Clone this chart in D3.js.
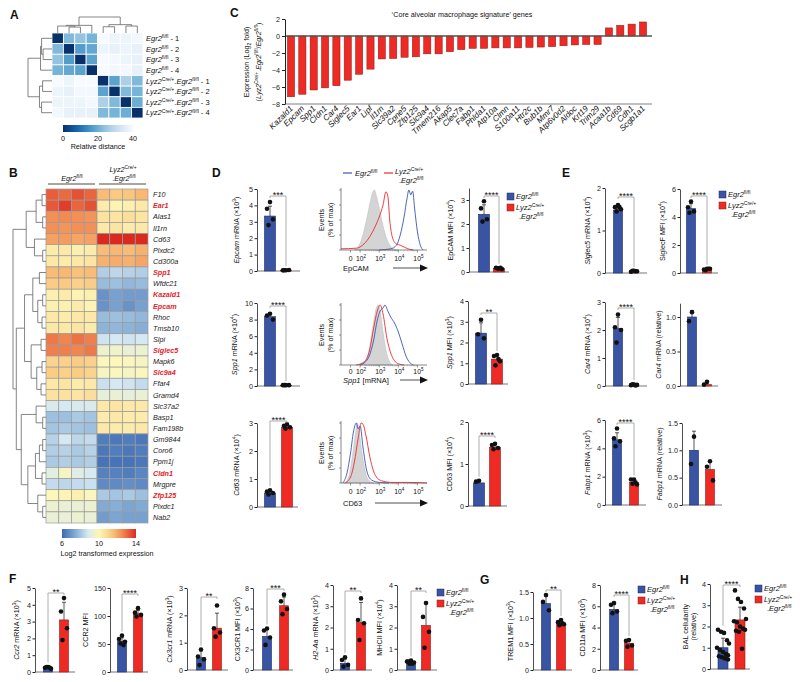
<!DOCTYPE html>
<html>
<head>
<meta charset="utf-8">
<script src="https://cdn.jsdelivr.net/npm/d3@7.9.0/dist/d3.min.js"></script>
<style>
  body { margin: 0; background: #fff; }
  svg { font-family: "Liberation Sans", Arial, sans-serif; }
</style>
</head>
<body>
<svg id="fig" width="800" height="682"></svg>
<script>
// ---------- data: panel A (sample distance) ----------
const distSamples = [
  '<i>Egr2</i><sup>fl/fl</sup> - 1', '<i>Egr2</i><sup>fl/fl</sup> - 2',
  '<i>Egr2</i><sup>fl/fl</sup> - 3', '<i>Egr2</i><sup>fl/fl</sup> - 4',
  '<i>Lyz2</i><sup>Cre/+</sup>.<i>Egr2</i><sup>fl/fl</sup> - 1', '<i>Lyz2</i><sup>Cre/+</sup>.<i>Egr2</i><sup>fl/fl</sup> - 2',
  '<i>Lyz2</i><sup>Cre/+</sup>.<i>Egr2</i><sup>fl/fl</sup> - 3', '<i>Lyz2</i><sup>Cre/+</sup>.<i>Egr2</i><sup>fl/fl</sup> - 4'
];
const distMatrix = [
  [0, 22, 24, 21, 40, 38, 38, 39],
  [22, 0, 17, 19, 38, 37, 38, 37],
  [24, 17, 0, 18, 40, 39, 38, 37],
  [21, 19, 18, 0, 40, 39, 39, 37],
  [40, 38, 40, 40, 0, 18, 27, 22],
  [38, 37, 39, 39, 18, 0, 22, 21],
  [38, 38, 38, 39, 27, 22, 0, 20],
  [39, 37, 37, 37, 22, 21, 20, 0]
];
const distTree = [46, [22, [20, 0, [17, 1, 2]], 3], [24, [18, 4, 5], [20, 6, 7]]];

// ---------- data: panel B (expression heatmap) ----------
const heatGenes = ['F10', 'Ear1', 'Alas1', 'Il1rn', 'Cd63', 'Plxdc2', 'Cd300a', 'Spp1', 'Wfdc21', 'Kazald1',
  'Epcam', 'Rhoc', 'Tmsb10', 'Slpi', 'Siglec5', 'Mapk6', 'Slc9a4', 'Ffar4', 'Gramd4', 'Slc37a2',
  'Basp1', 'Fam198b', 'Gm9844', 'Coro6', 'Ppm1j', 'Cldn1', 'Mrgpre', 'Zfp125', 'Plxdc1', 'Nab2'];
const heatRed = ['Ear1', 'Spp1', 'Kazald1', 'Epcam', 'Siglec5', 'Slc9a4', 'Cldn1', 'Zfp125'];
const heatValues = [
  [13.2, 13.0, 13.4, 13.1, 11.6, 11.3, 11.4, 11.7],
  [13.3, 13.7, 13.1, 13.4, 10.3, 10.1, 10.2, 10.4],
  [12.4, 12.5, 12.4, 12.3, 10.6, 10.5, 10.7, 10.5],
  [12.4, 12.3, 12.4, 12.4, 10.4, 10.5, 10.3, 10.4],
  [12.1, 12.2, 12.0, 12.1, 14.0, 14.2, 14.0, 14.1],
  [10.3, 10.4, 10.2, 10.3, 11.6, 11.7, 11.6, 11.8],
  [10.4, 10.3, 10.4, 10.5, 11.8, 11.9, 11.8, 12.0],
  [11.6, 11.7, 11.5, 11.6, 8.2, 8.4, 8.3, 8.2],
  [11.2, 11.3, 11.1, 11.2, 7.8, 7.9, 7.7, 7.8],
  [10.2, 10.3, 10.1, 10.2, 6.9, 7.2, 7.1, 7.1],
  [10.2, 10.2, 10.3, 10.1, 6.9, 7.2, 6.9, 7.2],
  [10.4, 10.3, 10.4, 10.4, 7.8, 7.9, 7.8, 7.7],
  [10.4, 10.4, 10.5, 10.3, 7.6, 7.7, 7.6, 7.5],
  [12.8, 12.6, 12.9, 12.7, 8.7, 8.8, 8.7, 8.8],
  [12.7, 12.7, 12.6, 12.8, 9.5, 9.6, 9.4, 9.5],
  [11.0, 11.1, 11.2, 11.1, 9.9, 10.0, 9.9, 9.8],
  [11.2, 11.1, 11.2, 11.0, 9.8, 9.9, 9.8, 9.9],
  [10.4, 10.5, 10.3, 10.4, 8.6, 8.8, 8.7, 8.5],
  [10.6, 10.6, 10.5, 10.7, 9.3, 9.4, 9.3, 9.4],
  [8.9, 8.8, 8.9, 8.9, 10.4, 10.5, 10.4, 10.4],
  [7.9, 7.9, 8.1, 8.0, 10.3, 10.4, 10.3, 10.3],
  [8.0, 8.1, 8.0, 7.9, 10.4, 10.3, 10.3, 10.4],
  [8.3, 8.8, 8.4, 8.5, 6.4, 6.3, 6.4, 6.3],
  [8.2, 8.3, 8.1, 8.3, 6.3, 6.4, 6.3, 6.4],
  [8.1, 8.2, 8.1, 8.2, 6.2, 6.2, 6.2, 6.3],
  [9.2, 9.8, 9.1, 8.9, 6.5, 6.5, 6.4, 6.6],
  [8.5, 8.4, 8.5, 8.6, 6.7, 6.7, 6.8, 6.7],
  [10.0, 10.1, 10.2, 9.9, 8.1, 8.0, 8.1, 7.9],
  [9.5, 9.4, 9.4, 9.5, 7.4, 7.5, 7.3, 7.4],
  [9.4, 9.4, 9.5, 9.4, 7.1, 7.3, 7.2, 7.2]
];
const heatTree = [10,
  [6, [3, [1.2, 'F10', 'Ear1'], [1, 'Alas1', 'Il1rn']], [3.5, 'Cd63', [1, 'Plxdc2', 'Cd300a']]],
  [9,
    [6.5, [4, [2, 'Spp1', 'Wfdc21'], [2.5, [1, 'Kazald1', 'Epcam'], [1.2, 'Rhoc', 'Tmsb10']]],
          [4.5, [1.5, 'Slpi', 'Siglec5'], [2.8, [1.2, 'Mapk6', 'Slc9a4'], [1.5, 'Ffar4', 'Gramd4']]]],
    [7.5, [3, 'Slc37a2', [1, 'Basp1', 'Fam198b']],
          [5.5, [3.2, [2, [1, 'Gm9844', 'Coro6'], 'Ppm1j'], [1.2, 'Cldn1', 'Mrgpre']],
                [2.5, 'Zfp125', [1, 'Plxdc1', 'Nab2']]]]]];

// ---------- data: panel C (log2 fold) ----------
const coreGenes = ['Kazald1', 'Epcam', 'Spp1', 'Cldn1', 'Car4', 'Siglec5', 'Ear1', 'Lipf', 'Il1rn', 'Slc39a2',
  'Cpne5', 'Zfp125', 'Slc9a4', 'Tmem216', 'Akap5', 'Clec7a', 'Fabp1', 'Phlda1', 'Atp10a', 'Clmn',
  'S100a11', 'Htr2c', 'Bub1b', 'Mmr7', 'Atp6v0d2', 'Aldoc', 'Krt19', 'Trim29', 'Acaa1b', 'Cd69', 'Cdh1', 'Scgb1a1'];
const coreFold = [-7.15, -6.85, -6.35, -6.1, -5.85, -5.2, -4.5, -3.9, -2.7, -2.65,
  -2.5, -2.45, -2.1, -2.1, -1.85, -1.6, -1.45, -1.45, -1.4, -1.4,
  -1.4, -1.35, -1.3, -1.25, -1.15, -1.05, -1.0, -1.0, 0.95, 1.25, 1.4, 1.65];

// ---------- data: flow histograms [log10 position, % of max] ----------
const epcamIso = [[1.7, 0], [1.9, 5], [2.1, 20], [2.3, 45], [2.5, 75], [2.65, 95], [2.75, 100], [2.85, 90], [3.0, 70], [3.2, 40], [3.4, 18], [3.6, 6], [3.8, 1], [4.0, 0]];
const epcamWt = [[3.0, 0], [3.6, 2], [3.9, 8], [4.1, 25], [4.3, 55], [4.45, 85], [4.55, 100], [4.65, 92], [4.75, 98], [4.85, 70], [5.0, 30], [5.15, 8], [5.3, 0]];
const epcamKo = [[1.0, 2], [1.8, 3], [2.2, 10], [2.5, 22], [2.8, 40], [3.0, 55], [3.2, 75], [3.35, 97], [3.45, 90], [3.55, 50], [3.7, 20], [3.9, 10], [4.1, 8], [4.3, 5], [4.5, 2], [4.8, 0]];
const spp1Iso = [[2.0, 0], [2.3, 8], [2.5, 30], [2.7, 70], [2.85, 95], [2.95, 100], [3.05, 90], [3.2, 55], [3.35, 25], [3.5, 8], [3.7, 0]];
const spp1Wt = [[2.0, 0], [2.4, 10], [2.7, 40], [2.9, 75], [3.05, 90], [3.2, 95], [3.3, 100], [3.45, 90], [3.6, 80], [3.8, 70], [4.0, 55], [4.2, 35], [4.4, 15], [4.6, 4], [4.8, 0]];
const spp1Ko = [[1.8, 0], [2.2, 5], [2.5, 25], [2.7, 60], [2.9, 90], [3.05, 100], [3.2, 85], [3.4, 45], [3.6, 20], [3.8, 7], [4.0, 2], [4.3, 0]];
const cd63Iso = [[1.2, 0], [1.4, 10], [1.6, 45], [1.75, 80], [1.85, 100], [1.95, 85], [2.1, 50], [2.3, 15], [2.5, 3], [2.7, 0]];
const cd63Wt = [[1.1, 0], [1.3, 15], [1.5, 50], [1.65, 85], [1.8, 100], [1.9, 90], [2.0, 95], [2.15, 60], [2.35, 20], [2.6, 5], [3.0, 1], [3.5, 0]];
const cd63Ko = [[1.2, 0], [1.5, 10], [1.7, 35], [1.9, 75], [2.05, 100], [2.15, 98], [2.3, 80], [2.5, 45], [2.7, 20], [2.9, 8], [3.2, 3], [3.6, 1], [4.5, 1], [5.5, 0]];

// ---------- data: bar charts (group 0 = Egr2 fl/fl, group 1 = Lyz2Cre/+.Egr2 fl/fl) ----------
const epcamMrna = { mean: [3.35, 0.05], sd: [0.6, 0.01], pts: [[4.2, 3.8, 3.15, 2.8], [0.05, 0.04, 0.06, 0.05]] };
const epcamMfi = { mean: [2.4, 0.15], sd: [0.4, 0.03], pts: [[2.95, 2.65, 2.2, 2.1], [0.15, 0.18, 0.12, 0.15, 0.17]] };
const spp1Mrna = { mean: [8.35, 0.1], sd: [0.3, 0.02], pts: [[8.7, 8.5, 8.0], [0.1, 0.1, 0.1, 0.1]] };
const spp1Mfi = { mean: [2.45, 1.2], sd: [0.5, 0.2], pts: [[3.1, 2.4, 2.2], [1.4, 1.35, 1.1, 0.9, 1.2]] };
const cd63Mrna = { mean: [0.5, 2.85], sd: [0.06, 0.06], pts: [[0.6, 0.55, 0.5, 0.45], [2.95, 2.9, 2.85, 2.8]] };
const cd63Mfi = { mean: [0.55, 1.4], sd: [0.03, 0.06], pts: [[0.6, 0.58], [1.48, 1.45, 1.38, 1.35]] };
const siglec5Mrna = { mean: [1.48, 0.03], sd: [0.05, 0.01], pts: [[1.6, 1.55, 1.5, 1.45, 1.55], [0.05, 0.03, 0.04, 0.05, 0.04]] };
const siglecfMfi = { mean: [4.6, 0.25], sd: [0.35, 0.04], pts: [[5.1, 4.7, 4.4, 4.3], [0.3, 0.25, 0.3, 0.2, 0.3]] };
const car4Mrna = { mean: [2.05, 0.03], sd: [0.4, 0.01], pts: [[2.55, 2.1, 2.0, 1.55], [0.05, 0.03, 0.04, 0.06, 0.02]] };
const car4Rel = { mean: [1.0, 0.02], sd: [0.09, 0.02], pts: [[1.07, 0.94], [0.06, 0.02]] };
const fabp1Mrna = { mean: [4.6, 1.6], sd: [0.5, 0.17], pts: [[5.4, 4.7, 4.5, 4.15], [1.8, 1.8, 1.45, 1.5, 1.6]] };
const fabp1Rel = { mean: [1.0, 0.65], sd: [0.35, 0.15], pts: [[1.25, 0.75], [0.8, 0.7, 0.45]] };
const ccr2Mrna = { mean: [0.28, 3.1], sd: [0.05, 1.05], pts: [[0.3, 0.25, 0.2, 0.3, 0.27], [4.4, 3.6, 2.6, 1.9]] };
const ccr2Mfi = { mean: [55, 104], sd: [6, 6], pts: [[65, 59, 54, 51, 48], [114, 106, 102, 99]] };
const cx3cr1Mrna = { mean: [0.45, 1.53], sd: [0.25, 0.55], pts: [[0.75, 0.49, 0.39, 0.18], [2.36, 1.53, 1.37, 1.22]] };
const cx3cr1Mfi = { mean: [3.27, 6.27], sd: [0.7, 0.85], pts: [[4.05, 3.86, 3.17, 2.45], [7.35, 6.7, 5.95, 5.45]] };
const h2aaMrna = { mean: [0.31, 2.23], sd: [0.2, 0.95], pts: [[0.6, 0.47, 0.24, 0.16], [3.37, 2.35, 2.2, 1.41]] };
const mhciiMfi = { mean: [0.35, 2.1], sd: [0.06, 1.1], pts: [[0.45, 0.4, 0.35, 0.3, 0.3, 0.4], [3.15, 2.5, 1.8, 1.05]] };
const trem1Mfi = { mean: [1.28, 0.9], sd: [0.14, 0.04], pts: [[1.44, 1.31, 1.15], [0.96, 0.92, 0.88, 0.86, 0.9]] };
const cd11aMfi = { mean: [5.7, 2.52], sd: [0.45, 0.3], pts: [[6.3, 6.13, 5.5, 5.35], [2.83, 2.74, 2.3, 2.2]] };
const balCells = { mean: [1.0, 2.31], sd: [0.45, 0.6],
  pts: [[1.85, 1.75, 1.7, 1.35, 1.2, 1.0, 0.9, 0.8, 0.7, 0.65, 0.6, 0.55, 0.5, 0.45],
        [3.7, 3.3, 3.15, 2.85, 2.35, 2.25, 2.2, 2.0, 1.9, 1.85, 1.8, 1.75, 0.95]] };

// ---------- drawing ----------
const svg = d3.select('#fig');
const FS = 7.2;
const BLUE = '#3a54a4', RED = '#ee2a24';
const JIT = [0, -3, 3, -1.5, 1.5, -4, 4];
const JIT_WIDE = [-5, -2, 1, 4, 6, -6, -3, 0, 3, 5, -4, -1, 2, 5];

// small markup: <i>, <sup>, <sub>
function rich(sel, str, fs) {
  const parts = str.split(/(<\/?(?:i|sup|sub)>)/).filter((s) => s);
  let it = false, mode = 0, shift = 0;
  parts.forEach((p) => {
    if (p === '<i>') it = true;
    else if (p === '</i>') it = false;
    else if (p === '<sup>') mode = 1;
    else if (p === '<sub>') mode = 2;
    else if (p === '</sup>' || p === '</sub>') mode = 0;
    else {
      const target = mode === 1 ? -0.38 * fs : mode === 2 ? 0.25 * fs : 0;
      const ts = sel.append('tspan').text(p);
      if (it) ts.attr('font-style', 'italic');
      if (mode) ts.attr('font-size', fs * 0.68);
      if (target !== shift) ts.attr('dy', target - shift);
      shift = target;
    }
  });
}

function txt(x, y, str, o = {}) {
  const fs = o.fs || FS;
  const t = svg.append('text')
    .attr('x', x).attr('y', y)
    .attr('font-size', fs)
    .attr('fill', o.fill || '#111')
    .attr('text-anchor', o.anchor || 'start');
  if (o.rot) t.attr('transform', `rotate(${o.rot},${x},${y})`);
  if (o.bold) t.attr('font-weight', 'bold');
  rich(t, str, fs);
  return t;
}

function drawTree(g, node, leafPos, hPix, rows) {
  if (!Array.isArray(node)) return { p: leafPos(node), h: 0 };
  const [h, l, r] = node;
  const a = drawTree(g, l, leafPos, hPix, rows);
  const b = drawTree(g, r, leafPos, hPix, rows);
  const hp = hPix(h);
  const d = rows
    ? `M${hPix(a.h)},${a.p}H${hp}V${b.p}H${hPix(b.h)}`
    : `M${a.p},${hPix(a.h)}V${hp}H${b.p}V${hPix(b.h)}`;
  g.append('path').attr('d', d).attr('fill', 'none').attr('stroke', '#666').attr('stroke-width', 0.8);
  return { p: (a.p + b.p) / 2, h };
}

// panel letters
[['A', 10, 19], ['B', 9, 177], ['C', 230, 17], ['D', 212, 177], ['E', 562, 177],
 ['F', 9, 583], ['G', 480, 584], ['H', 680, 584]].forEach(([l, x, y]) =>
  txt(x, y, l, { fs: 12, bold: true }));

// ===== Panel A =====
{
  const xA = d3.scaleBand().domain(d3.range(8)).range([52, 143]);
  const yA = d3.scaleBand().domain(d3.range(8)).range([33, 118]);
  const distColor = (v) => d3.interpolateBlues(1 - v / 40);
  const g = svg.append('g');
  distMatrix.forEach((row, i) => row.forEach((v, j) => {
    g.append('rect').attr('x', xA(j)).attr('y', yA(i))
      .attr('width', xA.bandwidth()).attr('height', yA.bandwidth())
      .attr('fill', distColor(v)).attr('stroke', '#fff').attr('stroke-width', 0.8);
  }));
  const hRow = d3.scaleLinear().domain([0, 46]).range([52, 28]);
  const hCol = d3.scaleLinear().domain([0, 46]).range([33, 17]);
  drawTree(g, distTree, (i) => yA(i) + yA.bandwidth() / 2, hRow, true);
  drawTree(g, distTree, (i) => xA(i) + xA.bandwidth() / 2, hCol, false);
  distSamples.forEach((s, i) => txt(146, yA(i) + yA.bandwidth() / 2 + 2.7, s, { fs: 7.5 }));

  const grad = svg.append('defs').append('linearGradient').attr('id', 'gradA');
  d3.range(0, 1.01, 0.1).forEach((t) => grad.append('stop')
    .attr('offset', t).attr('stop-color', distColor(t * 40)));
  const cb = d3.scaleLinear().domain([0, 40]).range([63, 133]);
  svg.append('rect').attr('x', 63).attr('y', 125).attr('width', 70).attr('height', 7).attr('fill', 'url(#gradA)');
  [0, 20, 40].forEach((v) => txt(cb(v), 140.5, String(v), { anchor: 'middle' }));
  txt(98, 148.5, 'Relative distance', { anchor: 'middle' });
}

// ===== Panel B =====
{
  const xB = d3.scaleBand().domain(d3.range(8)).range([46, 148]);
  const yB = d3.scaleBand().domain(heatGenes).range([189, 523]);
  const exprColor = d3.scaleLinear()
    .domain([6, 7.5, 8.8, 10, 11.5, 12.7, 14])
    .range(['#3d6bb3', '#86aed6', '#d5e9f2', '#fdf7b8', '#f9c27a', '#f07f4b', '#da2a1f'])
    .clamp(true);
  const g = svg.append('g');
  heatValues.forEach((row, i) => row.forEach((v, j) => {
    g.append('rect').attr('x', xB(j)).attr('y', yB(heatGenes[i]))
      .attr('width', xB.bandwidth()).attr('height', yB.bandwidth())
      .attr('fill', exprColor(v)).attr('stroke', '#9a9a9a').attr('stroke-width', 0.7);
  }));
  heatGenes.forEach((gn) => {
    const red = heatRed.includes(gn);
    const t = txt(153, yB(gn) + yB.bandwidth() / 2 + 2.6, `<i>${gn}</i>`, { fs: 7.2, fill: red ? '#e4232a' : '#222' });
    if (red) t.attr('font-weight', 'bold');
  });
  const hB = d3.scaleLinear().domain([0, 10]).range([46, 13]);
  drawTree(g, heatTree, (n) => yB(n) + yB.bandwidth() / 2, hB, true);

  // group header
  svg.append('path').attr('d', 'M48,184H95M99,184H146').attr('stroke', '#888').attr('stroke-width', 1.6);
  txt(72, 180.5, '<i>Egr2</i><sup>fl/fl</sup>', { anchor: 'middle' });
  txt(123, 172, '<i>Lyz2</i><sup>Cre/+</sup>', { anchor: 'middle' });
  txt(124, 181, '.<i>Egr2</i><sup>fl/fl</sup>', { anchor: 'middle' });

  const grad = svg.append('defs').append('linearGradient').attr('id', 'gradB');
  d3.range(0, 1.01, 0.05).forEach((t) => grad.append('stop')
    .attr('offset', t).attr('stop-color', exprColor(6 + t * 8)));
  const cb = d3.scaleLinear().domain([6, 14]).range([62, 136]);
  svg.append('rect').attr('x', 62).attr('y', 529).attr('width', 74).attr('height', 9).attr('fill', 'url(#gradB)');
  [6, 10, 14].forEach((v) => txt(cb(v), 546, String(v), { anchor: 'middle' }));
  txt(107, 555.5, 'Log2 transformed expression', { anchor: 'middle' });
}

// ===== Panel C =====
{
  const yC = d3.scaleLinear().domain([-8, 2]).range([104, 19]);
  const xC = d3.scalePoint().domain(coreGenes).range([291, 643]);
  const g = svg.append('g');
  g.append('line').attr('x1', 285).attr('x2', 652).attr('y1', yC(-8)).attr('y2', yC(-8))
    .attr('stroke', '#aaa').attr('stroke-width', 1.4);
  g.selectAll('rect').data(coreFold).join('rect')
    .attr('x', (d, i) => xC(coreGenes[i]) - 3.6).attr('width', 7.2)
    .attr('y', (d) => yC(Math.max(0, d)))
    .attr('height', (d) => Math.abs(yC(d) - yC(0)))
    .attr('fill', RED).attr('stroke', '#8a1a18').attr('stroke-width', 0.5);
  g.append('line').attr('x1', 285).attr('x2', 652).attr('y1', yC(0)).attr('y2', yC(0))
    .attr('stroke', '#555').attr('stroke-width', 1.5);
  const axis = g.append('g').attr('transform', 'translate(285,0)')
    .call(d3.axisLeft(yC).tickValues([-8, -6, -4, -2, 0, 2]).tickSize(3).tickSizeOuter(0).tickPadding(2));
  axis.attr('font-family', null).attr('font-size', FS).attr('color', '#222');
  coreGenes.forEach((gn) => {
    const x = xC(gn) + 2.5, y = 109;
    txt(x, y, `<i>${gn}</i>`, { fs: 8.2, anchor: 'end', rot: -45 });
  });
  txt(462, 17, '\u2018Core alveolar macrophage signature\u2019 genes', { anchor: 'middle' });
  txt(249, 62, 'Expression (Log<sub>2</sub> fold)', { anchor: 'middle', rot: -90 });
  txt(261, 62, '(<i>Lyz2</i><sup>Cre/+</sup>.<i>Egr2</i><sup>fl/fl</sup>/<i>Egr2</i><sup>fl/fl</sup>)', { anchor: 'middle', rot: -90 });
}

// ===== flow histograms =====
function hist(c) {
  const x = d3.scaleLinear().domain([1, 5.5]).range([341, 427]);
  const y = d3.scaleLinear().domain([0, 100]).range([c.bot, c.top]);
  const g = svg.append('g');
  const area = d3.area().x((d) => x(d[0])).y0(y(0)).y1((d) => y(d[1])).curve(d3.curveMonotoneX);
  const line = d3.line().x((d) => x(d[0])).y((d) => y(d[1])).curve(d3.curveMonotoneX);
  g.append('path').attr('d', area(c.iso)).attr('fill', '#d4d4d4').attr('stroke', '#c0c0c0').attr('stroke-width', 0.6);
  c.order.forEach((k) => g.append('path').attr('d', line(c[k]))
    .attr('fill', 'none').attr('stroke', k === 'wt' ? '#3d55b0' : '#ec2a2e').attr('stroke-width', 0.9));
  // axes
  g.append('line').attr('x1', 341).attr('x2', 341).attr('y1', c.bot).attr('y2', c.top - 2).attr('stroke', '#555').attr('stroke-width', 0.7);
  [0, 25, 50, 75, 100].forEach((v) => g.append('line').attr('x1', 339).attr('x2', 341)
    .attr('y1', y(v)).attr('y2', y(v)).attr('stroke', '#555').attr('stroke-width', 0.6));
  g.append('line').attr('x1', 341).attr('x2', 427).attr('y1', c.bot).attr('y2', c.bot).attr('stroke', '#555').attr('stroke-width', 0.7);
  [1.5, 2, 3, 4, 5].forEach((u) => g.append('line').attr('x1', x(u)).attr('x2', x(u))
    .attr('y1', c.bot).attr('y2', c.bot + 2.5).attr('stroke', '#555').attr('stroke-width', 0.6));
  d3.range(2, 5).forEach((n) => d3.range(2, 10).forEach((k) => {
    const u = n + Math.log10(k);
    g.append('line').attr('x1', x(u)).attr('x2', x(u)).attr('y1', c.bot).attr('y2', c.bot + 1.3)
      .attr('stroke', '#777').attr('stroke-width', 0.4);
  }));
  txt(x(1.5), c.tickY, '0', { anchor: 'middle', fs: 6.8 });
  [2, 3, 4, 5].forEach((n) => txt(x(n) + 1, c.tickY, `10<sup>${n}</sup>`, { anchor: 'middle', fs: 6.8 }));
  txt(343, c.labY, c.label, { fs: 7.5 });
  g.append('line').attr('x1', c.arX).attr('x2', 421).attr('y1', c.arY).attr('y2', c.arY).attr('stroke', '#222').attr('stroke-width', 0.8);
  g.append('path').attr('d', `M420,${c.arY - 3.5}L428,${c.arY}L420,${c.arY + 3.5}Z`).attr('fill', '#111');
  const mid = (c.top + c.bot) / 2;
  txt(324, mid, 'Events', { anchor: 'middle', rot: -90, fs: 7.2 });
  txt(333, mid, '(% of max)', { anchor: 'middle', rot: -90, fs: 7.2 });
}

hist({ iso: epcamIso, wt: epcamWt, ko: epcamKo, order: ['ko', 'wt'], top: 190, bot: 250, tickY: 261, label: 'EpCAM', labY: 271, arX: 393, arY: 268 });
hist({ iso: spp1Iso, wt: spp1Wt, ko: spp1Ko, order: ['wt', 'ko'], top: 305, bot: 365, tickY: 374, label: '<i>Spp1</i> [mRNA]', labY: 383, arX: 400, arY: 380 });
hist({ iso: cd63Iso, wt: cd63Wt, ko: cd63Ko, order: ['ko', 'wt'], top: 423, bot: 483, tickY: 494, label: 'CD63', labY: 506, arX: 375, arY: 503 });

// histogram legend
svg.append('line').attr('x1', 343).attr('x2', 352).attr('y1', 173).attr('y2', 173).attr('stroke', '#3d55b0').attr('stroke-width', 1.2);
txt(355, 175.5, '<i>Egr2</i><sup>fl/fl</sup>', { fs: 7.5 });
svg.append('line').attr('x1', 384).attr('x2', 393).attr('y1', 173).attr('y2', 173).attr('stroke', '#ec2a2e').attr('stroke-width', 1.2);
txt(395, 174, '<i>Lyz2</i><sup>Cre/+</sup>', { fs: 7.5 });
txt(399, 182.5, '.<i>Egr2</i><sup>fl/fl</sup>', { fs: 7.5 });

// ===== bar charts =====
function barChart(c) {
  const d = c.d;
  const dmax = c.dmax || c.tmax;
  const y = d3.scaleLinear().domain([0, dmax]).range([c.base, c.base - (c.base - c.top) * dmax / c.tmax]);
  const g = svg.append('g');
  const bw = c.bw || 10;
  const jit = c.jit || JIT;
  g.append('line').attr('x1', c.ax).attr('x2', c.end).attr('y1', c.base).attr('y2', c.base)
    .attr('stroke', '#666').attr('stroke-width', 0.9);
  d.mean.forEach((m, i) => {
    const x = c.cx[i];
    g.append('rect').attr('x', x - bw / 2).attr('y', y(m)).attr('width', bw).attr('height', c.base - y(m))
      .attr('fill', i ? RED : BLUE).attr('stroke', i ? '#8c1c1c' : '#1c2b66').attr('stroke-width', 0.6);
    const e = y(m + d.sd[i]);
    g.append('path').attr('d', `M${x},${y(m)}V${e}M${x - 2},${e}H${x + 2}`)
      .attr('stroke', '#111').attr('stroke-width', 0.7).attr('fill', 'none');
    d.pts[i].forEach((v, j) => g.append('circle')
      .attr('cx', x + jit[j % jit.length]).attr('cy', y(v)).attr('r', 2.3).attr('fill', '#111'));
  });
  const axis = g.append('g').attr('transform', `translate(${c.ax},0)`)
    .call(d3.axisLeft(y).tickValues(c.ticks).tickSize(2.5).tickSizeOuter(0).tickPadding(1.5)
      .tickFormat(c.fmt || d3.format('~g')));
  axis.attr('font-family', null).attr('font-size', FS).attr('color', '#222');
  axis.select('.domain').attr('stroke-width', 0.8);
  const midY = (c.base + y(dmax)) / 2;
  const lx = c.ax - (c.lab || 15);
  if (Array.isArray(c.label)) {
    txt(lx - 8, midY, c.label[0], { anchor: 'middle', rot: -90 });
    txt(lx, midY, c.label[1], { anchor: 'middle', rot: -90 });
  } else {
    txt(lx, midY, c.label, { anchor: 'middle', rot: -90 });
  }
  if (c.sig) {
    const lo = d.mean[0] < d.mean[1] ? 0 : 1;
    const loTop = y(d3.max(d.pts[lo].concat([d.mean[lo] + d.sd[lo]])));
    const hi = 1 - lo;
    g.append('path')
      .attr('d', `M${c.cx[0]},${c.sigY}H${c.cx[1]}M${c.cx[lo]},${c.sigY}V${loTop - 4}M${c.cx[hi]},${c.sigY}V${c.sigY + 2}`)
      .attr('stroke', '#999').attr('stroke-width', 0.8).attr('fill', 'none');
    txt((c.cx[0] + c.cx[1]) / 2, c.sigY + 2.2, c.sig, { anchor: 'middle', fs: 9 });
  }
}

const f1 = d3.format('.1f');
const f0 = (v) => (v === 0 ? '0' : f1(v));

[
  // panel D
  { d: epcamMrna, ax: 257, base: 271, top: 189, tmax: 5, ticks: [0, 1, 2, 3, 4, 5], cx: [270, 286], end: 300, bw: 11,
    label: '<i>Epcam</i> mRNA (×10<sup>3</sup>)', lab: 18, sig: '***', sigY: 196 },
  { d: epcamMfi, ax: 469, base: 272, top: 200, tmax: 3, dmax: 3.5, ticks: [0, 1, 2, 3], cx: [484, 499], end: 509, bw: 11,
    label: 'EpCAM MFI (×10<sup>4</sup>)', lab: 16, sig: '****', sigY: 196 },
  { d: spp1Mrna, ax: 257, base: 386, top: 303, tmax: 10, ticks: [0, 2, 4, 6, 8, 10], cx: [270, 286], end: 300, bw: 11,
    label: '<i>Spp1</i> mRNA (×10<sup>4</sup>)', lab: 20, sig: '****', sigY: 306 },
  { d: spp1Mfi, ax: 468, base: 384, top: 301, tmax: 4, ticks: [0, 1, 2, 3, 4], cx: [481, 497], end: 508, bw: 11,
    label: '<i>Spp1</i> MFI (×10<sup>3</sup>)', lab: 16, sig: '**', sigY: 313 },
  { d: cd63Mrna, ax: 257, base: 507, top: 423, tmax: 3, ticks: [0, 1, 2, 3], cx: [270, 287], end: 298, bw: 11,
    label: '<i>Cd63</i> mRNA (×10<sup>4</sup>)', lab: 18, sig: '****', sigY: 421 },
  { d: cd63Mfi, ax: 468, base: 506, top: 422, tmax: 2, ticks: [0, 1, 2], cx: [479, 495], end: 507, bw: 11,
    label: 'CD63 MFI (×10<sup>4</sup>)', lab: 16, sig: '****', sigY: 436 },
  // panel E
  { d: siglec5Mrna, ax: 605, base: 273, top: 188, tmax: 2, ticks: [0, 1, 2], cx: [618, 634], end: 647, bw: 9,
    label: '<i>Siglec5</i> mRNA (×10<sup>4</sup>)', lab: 15, sig: '****', sigY: 197 },
  { d: siglecfMfi, ax: 680, base: 273, top: 189, tmax: 6, ticks: [0, 2, 4, 6], cx: [691, 707], end: 718, bw: 9,
    label: 'SiglecF MFI (×10<sup>4</sup>)', lab: 15, sig: '****', sigY: 196 },
  { d: car4Mrna, ax: 605, base: 386, top: 302, tmax: 3, ticks: [0, 1, 2, 3], cx: [618, 634], end: 647, bw: 9,
    label: '<i>Car4</i> mRNA (×10<sup>4</sup>)', lab: 15, sig: '****', sigY: 308 },
  { d: car4Rel, ax: 680, base: 386, top: 317, tmax: 1, dmax: 1.2, ticks: [0, 0.5, 1], cx: [692, 707], end: 718, bw: 9,
    fmt: f1, label: '<i>Car4</i> mRNA (relative)', lab: 19 },
  { d: fabp1Mrna, ax: 605, base: 505, top: 420, tmax: 6, ticks: [0, 2, 4, 6], cx: [617, 634], end: 646, bw: 9,
    label: '<i>Fabp1</i> mRNA (×10<sup>3</sup>)', lab: 15, sig: '****', sigY: 423 },
  { d: fabp1Rel, ax: 682, base: 505, top: 423, tmax: 1.5, ticks: [0, 0.5, 1, 1.5], cx: [694, 710], end: 722, bw: 9,
    fmt: f1, label: '<i>Fabp1</i> mRNA (relative)', lab: 20 },
  // panel F
  { d: ccr2Mrna, ax: 35, base: 672, top: 588, tmax: 5, ticks: [0, 1, 2, 3, 4, 5], cx: [48, 64], end: 75, bw: 9,
    label: '<i>Ccr2</i> mRNA (×10<sup>3</sup>)', lab: 16, sig: '**', sigY: 593 },
  { d: ccr2Mfi, ax: 110, base: 672, top: 588, tmax: 150, ticks: [0, 50, 100, 150], cx: [122, 138], end: 148, bw: 9,
    label: 'CCR2 MFI', lab: 22, sig: '****', sigY: 594 },
  { d: cx3cr1Mrna, ax: 187, base: 670, top: 588, tmax: 3, ticks: [0, 1, 2, 3], cx: [201, 217], end: 228, bw: 9,
    label: '<i>Cx3cr1</i> mRNA (×10<sup>3</sup>)', lab: 15, sig: '**', sigY: 597 },
  { d: cx3cr1Mfi, ax: 253, base: 670, top: 588, tmax: 8, ticks: [0, 2, 4, 6, 8], cx: [267, 284], end: 293, bw: 9,
    label: 'CX3CR1 MFI (×10<sup>3</sup>)', lab: 13, sig: '***', sigY: 589 },
  { d: h2aaMrna, ax: 333, base: 670, top: 585, tmax: 4, ticks: [0, 1, 2, 3, 4], cx: [345, 361], end: 372, bw: 9,
    label: '<i>H2-Aa</i> mRNA (×10<sup>3</sup>)', lab: 15, sig: '**', sigY: 591 },
  { d: mhciiMfi, ax: 397, base: 670, top: 585, tmax: 4, ticks: [0, 1, 2, 3, 4], cx: [411, 426], end: 437, bw: 9,
    label: 'MHCII MFI (×10<sup>4</sup>)', lab: 15, sig: '**', sigY: 591 },
  // panel G
  { d: trem1Mfi, ax: 533, base: 670, top: 592, tmax: 1.5, ticks: [0, 0.5, 1, 1.5], cx: [546, 561], end: 572, bw: 9,
    fmt: f0, label: 'TREM1 MFI (×10<sup>3</sup>)', lab: 20, sig: '**', sigY: 590 },
  { d: cd11aMfi, ax: 600, base: 670, top: 585, tmax: 8, ticks: [0, 2, 4, 6, 8], cx: [614, 629], end: 638, bw: 9,
    label: 'CD11a MFI (×10<sup>3</sup>)', lab: 15, sig: '****', sigY: 595 },
  // panel H
  { d: balCells, ax: 710, base: 669, top: 584, tmax: 4, ticks: [0, 1, 2, 3, 4], cx: [723, 740], end: 750, bw: 10,
    jit: JIT_WIDE, label: ['BAL cellularity', '(relative)'], lab: 14, sig: '****', sigY: 585 }
].forEach(barChart);

// group legends
function legend(x, y) {
  svg.append('rect').attr('x', x).attr('y', y).attr('width', 7).attr('height', 7)
    .attr('fill', BLUE).attr('stroke', '#1c2b66').attr('stroke-width', 0.5);
  txt(x + 9, y + 6.3, '<i>Egr2</i><sup>fl/fl</sup>', { fs: 7.5 });
  svg.append('rect').attr('x', x).attr('y', y + 11).attr('width', 7).attr('height', 7)
    .attr('fill', RED).attr('stroke', '#8c1c1c').attr('stroke-width', 0.5);
  txt(x + 9, y + 17.3, '<i>Lyz2</i><sup>Cre/+</sup>', { fs: 7.5 });
  txt(x + 12, y + 25.5, '.<i>Egr2</i><sup>fl/fl</sup>', { fs: 7.5 });
}
legend(507, 193);
legend(719, 191);
legend(437, 589);
legend(638, 586);
legend(755, 585);
</script>
</body>
</html>
